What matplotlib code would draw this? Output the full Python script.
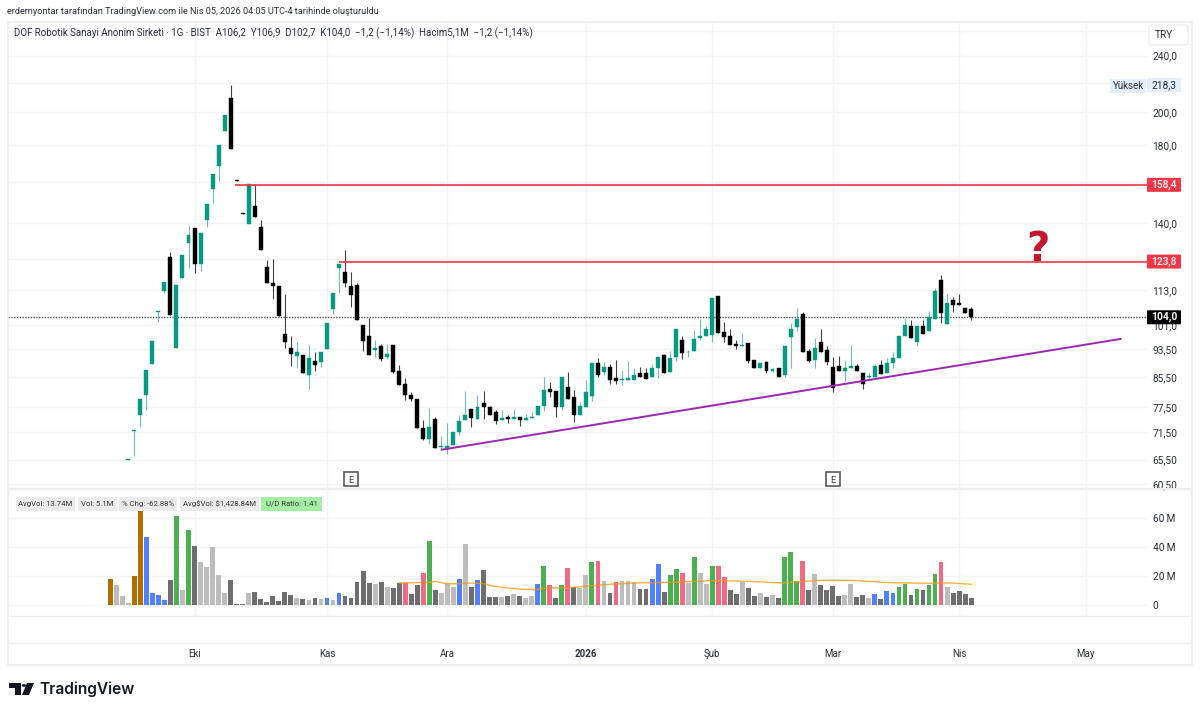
import matplotlib
matplotlib.use("Agg")
import matplotlib.pyplot as plt
from matplotlib.lines import Line2D
from matplotlib.patches import Rectangle, FancyBboxPatch, Polygon, Circle

# daily candles, values
opens = [65.4, 71.8, 75.7, 80.7, 89.2, 105.3, 112.5, 125.6, 93.8, 117.6,
         131.5, 137.7, 122.8, 141.4, 156.5, 168.3, 188.1, 209.3, 160.7, 144.7,
         139.6, 148.2, 138.5, 121.7, 115.7, 114.3, 98.2, 93.8, 91.4, 91.8,
         86.0, 89.9, 89.7, 93.5, 106.3, 121.2, 119.6, 114.3, 114.8, 101.0,
         97.4, 93.3, 94.3, 91.0, 94.6, 87.0, 83.5, 80.7, 79.6, 72.5,
         70.1, 74.6, 68.3, 67.7, 68.6, 71.5, 74.5, 77.1, 74.7, 78.5,
         77.6, 76.3, 74.3, 75.2, 74.7, 75.2, 74.5, 74.8, 75.6, 77.8,
         82.2, 81.7, 77.6, 82.8, 80.1, 75.5, 77.6, 80.3, 89.3, 86.8,
         88.2, 85.2, 84.7, 84.7, 84.7, 86.4, 86.4, 85.3, 87.9, 91.6,
         86.8, 91.2, 96.3, 92.5, 92.8, 96.9, 97.4, 97.8, 111.0, 98.7,
         97.4, 94.9, 94.5, 95.2, 90.1, 88.0, 89.6, 87.1, 87.8, 85.9,
         97.2, 100.2, 104.5, 92.8, 90.3, 95.5, 93.3, 88.2, 88.4, 87.1,
         87.8, 88.4, 86.6, 85.4, 85.5, 88.9, 86.4, 89.4, 90.7, 97.6,
         100.5, 95.5, 100.7, 98.9, 102.8, 116.6, 101.2, 109.3, 108.5, 106.7,
         106.2]
highs = [65.6, 72.0, 79.5, 87.3, 95.9, 105.5, 116.0, 127.5, 114.8, 126.5,
         138.7, 137.7, 135.7, 148.9, 163.8, 180.0, 198.0, 218.3, 160.7, 144.7,
         158.7, 158.7, 141.4, 124.4, 124.7, 114.3, 111.4, 97.6, 95.5, 91.8,
         94.6, 92.6, 92.6, 101.7, 111.8, 123.0, 128.4, 119.6, 115.4, 101.0,
         103.4, 96.1, 94.9, 95.1, 94.6, 88.7, 85.1, 81.3, 79.6, 74.5,
         77.3, 75.1, 70.6, 73.7, 71.7, 75.5, 81.6, 77.1, 80.6, 81.7,
         77.9, 76.8, 76.8, 75.5, 77.0, 75.2, 75.9, 76.4, 77.8, 85.5,
         84.2, 81.7, 85.5, 86.8, 82.0, 78.8, 84.7, 89.3, 90.7, 89.7,
         89.2, 90.1, 87.3, 89.9, 87.8, 88.1, 87.8, 89.2, 91.0, 92.1,
         92.8, 99.7, 97.6, 93.1, 99.3, 103.0, 100.7, 110.0, 111.0, 102.0,
         99.7, 96.1, 98.4, 95.2, 90.1, 89.3, 90.0, 88.0, 88.0, 94.5,
         101.6, 106.5, 105.3, 93.6, 96.9, 99.7, 94.3, 91.1, 91.3, 90.2,
         94.8, 89.2, 86.6, 86.4, 89.2, 90.2, 90.7, 92.6, 97.5, 103.4,
         102.7, 100.7, 102.7, 105.5, 113.7, 118.4, 111.7, 110.5, 111.7, 106.8,
         106.9]
lows = [65.4, 66.3, 72.8, 76.8, 89.2, 102.0, 112.0, 104.2, 93.8, 117.6,
        121.3, 119.4, 120.2, 138.4, 149.3, 160.4, 188.1, 177.9, 160.2, 144.3,
        139.6, 142.8, 128.5, 115.7, 109.6, 104.0, 93.8, 88.4, 87.8, 86.6,
        82.3, 87.1, 88.2, 93.5, 104.5, 111.9, 113.9, 107.0, 102.6, 92.9,
        91.8, 91.0, 89.9, 90.4, 86.6, 83.2, 79.3, 79.1, 72.6, 69.7,
        68.9, 68.0, 67.5, 66.6, 68.6, 70.8, 74.3, 72.8, 74.7, 74.7,
        75.5, 73.5, 74.3, 73.7, 74.7, 73.0, 74.5, 74.8, 75.6, 76.6,
        80.0, 75.1, 76.8, 79.6, 73.9, 75.5, 77.6, 79.0, 85.4, 85.9,
        83.6, 83.4, 83.2, 84.7, 84.7, 85.5, 84.9, 85.3, 85.2, 86.5,
        86.8, 89.9, 90.4, 91.1, 92.8, 96.1, 97.4, 95.5, 98.5, 95.5,
        94.8, 93.5, 94.5, 89.4, 87.8, 88.0, 86.6, 86.8, 85.5, 85.3,
        87.8, 98.9, 92.6, 89.7, 87.8, 92.6, 88.9, 81.4, 87.0, 84.3,
        87.8, 87.0, 82.2, 84.7, 85.5, 86.3, 86.4, 88.0, 90.7, 97.6,
        96.9, 94.3, 98.2, 98.9, 102.8, 101.6, 101.2, 105.3, 107.5, 104.8,
        102.7]
closes = [65.6, 72.0, 79.5, 87.3, 95.9, 105.5, 116.0, 104.2, 114.8, 126.5,
          134.9, 122.8, 135.7, 148.9, 163.8, 180.0, 198.0, 177.9, 160.2, 144.3,
          158.7, 142.8, 128.5, 115.7, 114.5, 104.0, 95.5, 92.0, 92.6, 86.6,
          90.8, 88.7, 92.6, 101.7, 111.8, 123.0, 115.4, 111.3, 102.6, 96.0,
          91.8, 93.7, 90.5, 92.0, 86.8, 83.2, 80.7, 79.7, 72.6, 70.1,
          72.8, 68.0, 68.4, 68.5, 71.7, 74.1, 75.6, 74.8, 77.6, 77.5,
          75.5, 74.1, 75.0, 74.6, 75.2, 74.5, 74.9, 75.2, 77.8, 81.9,
          81.4, 77.6, 85.5, 79.6, 75.5, 77.8, 81.3, 89.3, 85.9, 88.2,
          84.6, 84.4, 85.0, 85.2, 86.1, 85.5, 84.9, 87.8, 91.0, 86.5,
          90.8, 99.7, 92.2, 92.7, 96.6, 97.6, 99.7, 110.0, 98.5, 97.2,
          94.8, 94.3, 94.7, 89.9, 87.8, 89.3, 87.0, 87.7, 85.5, 94.5,
          99.7, 102.9, 92.6, 90.0, 93.7, 92.6, 89.6, 82.4, 87.0, 87.8,
          88.6, 87.0, 83.6, 85.7, 88.6, 86.3, 89.4, 90.8, 97.5, 100.9,
          96.9, 100.7, 98.2, 103.6, 112.8, 104.9, 108.3, 107.7, 107.5, 104.8,
          103.5]

# volume in millions, the pane starts three sessions before the candles
volumes = [17.9, 14.0, 6.4, 1.4, 20.2, 65.3, 47.1, 8.0, 7.1, 3.7,
           17.0, 61.4, 10.6, 51.5, 40.9, 29.4, 26.2, 40.0, 20.7, 8.0,
           17.0, 0.9, 0.9, 8.5, 9.2, 4.4, 2.1, 6.0, 2.8, 9.2,
           7.1, 4.8, 4.4, 3.2, 4.8, 4.4, 4.8, 3.2, 8.5, 6.4,
           4.8, 15.9, 23.4, 15.4, 14.7, 15.9, 12.4, 11.5, 15.4,
           15.2, 7.4, 14.0, 21.8, 44.4, 10.1, 8.5, 15.2, 12.4, 17.9,
           42.3, 12.4, 17.2, 23.9, 5.3, 5.3, 5.7, 6.4, 7.4, 6.4,
           4.8, 6.4, 14.7, 26.7, 14.0, 4.8, 14.0, 25.5, 12.4, 11.5,
           20.7, 29.7, 30.6, 16.8, 8.5, 15.9, 16.8, 16.3, 15.9, 10.8,
           11.3, 17.9, 28.5, 9.2, 20.7, 24.6, 22.3, 15.2, 32.9, 21.8,
           14.7, 26.7, 26.9, 19.5, 10.3, 7.6, 15.9, 12.0, 6.4, 8.3,
           5.7, 6.9, 4.8, 32.9, 36.6, 16.8, 30.6, 10.3, 21.4, 14.0,
           10.3, 13.1, 6.4, 6.9, 14.7, 5.3, 6.9, 4.8, 7.4, 4.1,
           9.7, 8.0, 12.4, 14.7, 6.9, 11.3, 10.3, 13.6, 21.4, 29.4,
           12.4, 8.0, 9.7, 7.6, 5.1]
vol_kinds = ("o l l l o o b b b b d g l g d l l l l l "
             "d d d l d d d d d d d l d l d l b l b d "
             "d d d d l d l d d p d d p g d l l l b l "
             "d b d d d l d l d l l b g p d g p d l l "
             "g p l d p l l l d d b b d g g p l g l l "
             "g p p d d l d d l d l d g g g p d l d d "
             "d d l l d d l b d b b g g d g d g g p l "
             "d d d d").split()

# moving average of the volume, sampled along the line
avg_index = [45, 50, 51, 53, 55, 57, 59, 60.5, 63, 66, 68, 69, 72, 74, 77, 79, 84, 90,
             95, 96.6, 98.8, 100.5, 104.3, 108.2, 111, 114.3, 117, 120.9, 126.4, 132, 136.4, 140]
avg_volume = [15.2, 15.6, 16.3, 14.5, 14.7, 15.2, 14.7, 13.1, 11.7, 10.8, 10.6, 11.5, 11.9, 12.2, 13.3, 14.0, 15.2, 15.6,
              16.3, 16.8, 16.8, 16.6, 16.1, 15.2, 15.9, 16.8, 17.2, 16.8, 15.4, 15.0, 15.2, 14.3]

price_ticks = [260, 240, 220, 200, 180, 160, 140, 125, 113, 101, 93.5, 85.5, 77.5, 71.5, 65.5, 60.5]
price_tick_labels = ["", "240,0", "", "200,0", "180,0", "160,0", "140,0", "125,0", "113,0", "101,0",
                     "93,50", "85,50", "77,50", "71,50", "65,50", "60,50"]
vol_ticks = [0, 20, 40, 60]
vol_tick_labels = ["0", "20\u2009M", "40\u2009M", "60\u2009M"]
month_index = [11, 33, 53, 76, 97, 117, 138, 159]
month_labels = ["Eki", "Kas", "Ara", "2026", "Şub", "Mar", "Nis", "May"]
earnings_index = [37, 117]
resistance_levels = [158.4, 123.8]
resistance_start = [17.7, 35]
last_price = 103.5  # where the dotted line sits on the reference scale, label says 104,0
high_price = 218.3
trend_index = [51.9, 165]
trend_price = [67.6, 96.6]
chip_labels = ["AvgVol: 13.74M", "Vol: 5.1M", "% Chg: -62.88%", r"Avg\$Vol: \$1,428.84M", "U/D Ratio: 1.41"]
chip_edges = [(16, 75), (78, 117), (119, 177), (180, 259), (261, 322)]

GREEN = "#089981"
RED = "#F23645"
GRID = "#F3F4F6"
BORDER = "#EDEEF0"
TEXT = "#2A2E39"
KIND_COLORS = {"o": "#B26F00", "l": "#BDBDBD", "d": "#6E6E6E", "b": "#5080FF",
               "g": "#4CAF50", "p": "#EF6A85"}

W, H = 1200, 713
plt.rcParams["font.family"] = ["Roboto", "DejaVu Sans"]
fig = plt.figure(figsize=(W / 100, H / 100), dpi=100, facecolor="white")


def fx(px):
    return px / W


def fy(py):
    return 1 - py / H


def add_pane(left, top, right, bottom):
    return fig.add_axes([fx(left), fy(bottom), (right - left) / W, (bottom - top) / H])


# scale fixed so 240 and 60.5 land where they are in the screenshot
ax = add_pane(8, 22, 1147, 488)
ax_vol = add_pane(8, 489, 1147, 616)
x_limits = (-19.98, 169.2)

for a in (ax, ax_vol):
    a.set_xlim(*x_limits)
    a.set_xticks(month_index)
    a.set_xticklabels([])
    a.grid(True, color=GRID, lw=1)
    a.set_axisbelow(True)
    a.yaxis.tick_right()
    a.tick_params(length=0, labelsize=7.3, labelcolor=TEXT, pad=4)
    for s in a.spines.values():
        s.set_visible(False)

ax.set_yscale("log")
ax.set_ylim(59.8, 267.3)
ax.set_yticks(price_ticks)
ax.set_yticklabels(price_tick_labels)
ax.minorticks_off()

# candles
for i in range(len(opens)):
    up = closes[i] >= opens[i]
    col = GREEN if up else "black"
    ax.vlines(i, lows[i], highs[i], color=col, lw=0.8, alpha=0.6 if up else 0.75, zorder=2)
    ax.bar(i, abs(closes[i] - opens[i]), bottom=min(opens[i], closes[i]), width=0.66,
           color=col, linewidth=0.3, edgecolor=col, zorder=3)

ax.axhline(last_price, color="#50535E", lw=1, ls=(0, (1, 1)), zorder=1.5)
for level, start in zip(resistance_levels, resistance_start):
    ax.hlines(level, start, x_limits[1], color=RED, lw=1.2, zorder=4)
ax.plot(trend_index, trend_price, color="#9C27B0", lw=1.4, zorder=4, solid_capstyle="butt")

ax.text(151.1, 128.6, "?", color="#C2182B", fontsize=29, fontweight="bold", family="DejaVu Sans",
        ha="center", va="center", zorder=5)

# earnings markers
for i in earnings_index:
    ax.plot(i, 0.0193, marker="s", ms=10, mfc="white", mec="#5A5A5A", mew=1.2,
            transform=ax.get_xaxis_transform(), clip_on=False, zorder=5)
    ax.text(i, 0.0193, "E", transform=ax.get_xaxis_transform(), ha="center", va="center_baseline",
            fontsize=6.8, color="#444444", zorder=6)


def price_label(price, text, bg, fg="white", weight="medium"):
    px_left, px_right = 1147, 1181
    y_px = H - ax.transData.transform((0, price))[1]
    fig.add_artist(FancyBboxPatch((fx(px_left), fy(y_px + 7)), (px_right - px_left) / W, 14 / H,
                                  boxstyle="round,pad=0,rounding_size=0.001", fc=bg, ec="none",
                                  transform=fig.transFigure, zorder=6))
    fig.text(fx(1164), fy(y_px), text, color=fg, fontsize=7.4, fontweight=weight,
             ha="center", va="center", zorder=7)


price_label(resistance_levels[0], "158,4", RED)
price_label(resistance_levels[1], "123,8", RED)
price_label(last_price, "104,0", "black", weight="bold")
price_label(high_price, "218,3", "#E3EFFB", fg=TEXT, weight="normal")
fig.add_artist(Rectangle((fx(1110), fy(93)), 36 / W, 14 / H, fc="#E3EFFB", ec="none",
                         transform=fig.transFigure, zorder=6))
fig.text(fx(1128), fy(86), "Yüksek", color=TEXT, fontsize=7, ha="center", va="center", zorder=7)

# volume pane
ax_vol.set_ylim(-7.59, 80)
ax_vol.set_yticks(vol_ticks)
ax_vol.set_yticklabels(vol_tick_labels)
vol_x = list(range(-3, len(volumes) - 3))
ax_vol.bar(vol_x, volumes, width=0.8, color=[KIND_COLORS[k] for k in vol_kinds], zorder=2)
ax_vol.plot(avg_index, avg_volume, color="#FF9800", lw=1, alpha=0.75, zorder=3)

for i, label in zip(month_index, month_labels):
    ax_vol.text(i, -0.299, label, transform=ax_vol.get_xaxis_transform(), ha="center", va="center",
                fontsize=7, color=TEXT, fontweight="bold" if label == "2026" else "normal")

# stat chips above the volume bars
for label, (x0, x1) in zip(chip_labels, chip_edges):
    bg = "#A5F0A5" if label.startswith("U/D") else "#EBEBEB"
    fig.add_artist(Rectangle((fx(x0), fy(511)), (x1 - x0) / W, 14 / H, fc=bg, ec="none",
                             transform=fig.transFigure, zorder=6))
    fig.text(fx((x0 + x1) / 2), fy(504), label, color="#3A3A3A", fontsize=5.6, ha="center", va="center", zorder=7)

# frame and separators
fig.add_artist(Rectangle((fx(8), fy(665)), 1184 / W, 643 / H, fc="none", ec=BORDER, lw=1.2,
                         transform=fig.transFigure, zorder=0.5))
for y_px, lw in ((488.5, 1.6), (616, 1), (643, 1)):
    fig.add_artist(Line2D([fx(8), fx(1192)], [fy(y_px), fy(y_px)], color=BORDER, lw=lw, zorder=1))

# currency box
fig.add_artist(FancyBboxPatch((fx(1149), fy(45)), 39 / W, 20 / H, boxstyle="round,pad=0,rounding_size=0.003",
                              fc="white", ec=BORDER, lw=1, transform=fig.transFigure, zorder=6))
fig.text(fx(1164), fy(35), "TRY", color=TEXT, fontsize=7.3, ha="center", va="center", zorder=7)

fig.text(fx(7), fy(12), "erdemyontar tarafından TradingView.com ile Nis 05, 2026 04:05 UTC-4 tarihinde oluşturuldu",
         color=TEXT, fontsize=6.55, ha="left", va="center")
fig.text(fx(14), fy(33), "DOF Robotik Sanayi Anonim Sirketi · 1G · BIST  A106,2  Y106,9  D102,7  K104,0  −1,2 (−1,14%)  Hacim5,1M  −1,2 (−1,14%)",
         color=TEXT, fontsize=7, ha="left", va="center", zorder=7)

# TradingView logo
logo = [Polygon([(fx(9), fy(683)), (fx(21), fy(683)), (fx(21), fy(695)), (fx(15), fy(695)),
                 (fx(15), fy(688)), (fx(9), fy(688))], closed=True),
        Polygon([(fx(27), fy(683)), (fx(34), fy(683)), (fx(29), fy(695)), (fx(22), fy(695))], closed=True)]
for p in logo:
    p.set(fc="#131722", ec="none", transform=fig.transFigure)
    fig.add_artist(p)
fig.add_artist(Circle((fx(24), fy(685.5)), 2.3 / W, fc="#131722", ec="none", transform=fig.transFigure))
fig.text(fx(39), fy(689), "TradingView", color="#131722", fontsize=11.2, fontweight="semibold",
         family="Inter", ha="left", va="center")

fig.savefig("out.png", dpi=100)
